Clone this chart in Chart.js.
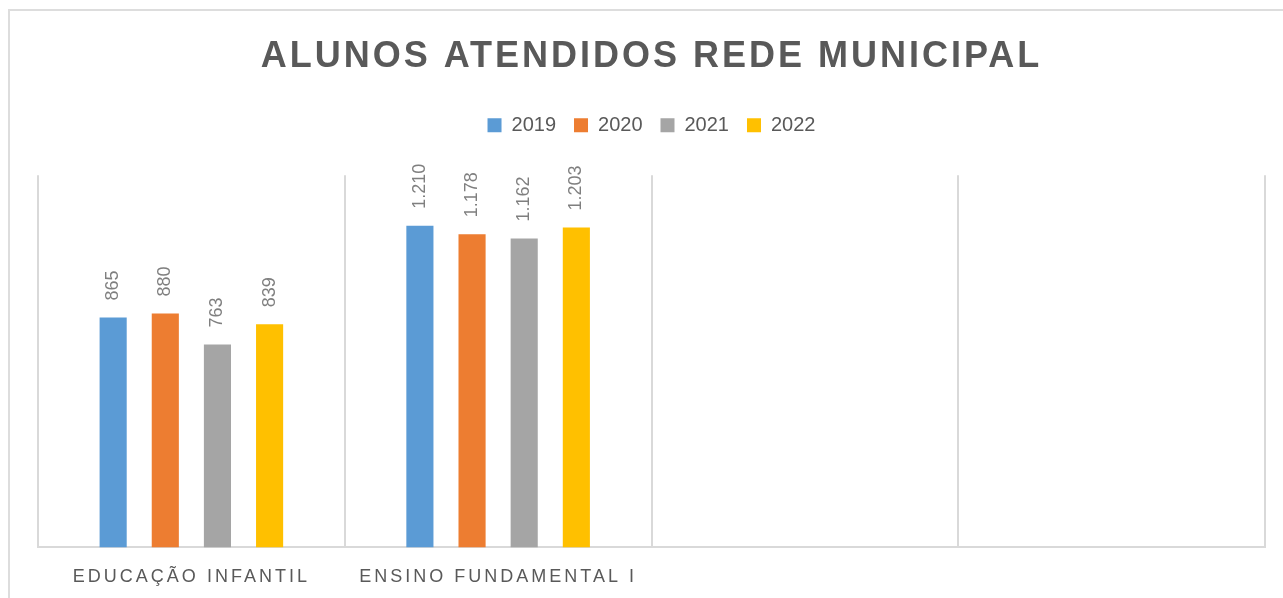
<!DOCTYPE html>
<html lang="pt-BR">
<head>
<meta charset="utf-8">
<title>Alunos atendidos rede municipal</title>
<script src="https://cdn.jsdelivr.net/npm/chart.js@4.4.1/dist/chart.umd.min.js"></script>
<style>
  html, body { margin: 0; padding: 0; background: #fff; overflow: hidden; }
  #box {
    position: absolute; left: 8px; top: 9px;
    width: 1280px; height: 600px;
    border: 2px solid #dddddd;
  }
</style>
</head>
<body>
<div id="box"><canvas id="chart"></canvas></div>
<script>
// data
const categories = ['EDUCAÇÃO INFANTIL', 'ENSINO FUNDAMENTAL I', '', ''];
const years = ['2019', '2020', '2021', '2022'];
const values2019 = [865, 1210, null, null];
const values2020 = [880, 1178, null, null];
const values2021 = [763, 1162, null, null];
const values2022 = [839, 1203, null, null];
const colors = ['#5B9BD5', '#ED7D31', '#A5A5A5', '#FFC000'];

const FONT = "'Liberation Sans', Arial, sans-serif";

// 1210 -> "1.210"
function fmt(v) {
  return String(v).replace(/\B(?=(\d{3})+(?!\d))/g, '.');
}

// wrap a draw method so its text gets letter spacing (canvas ctx.letterSpacing)
function spaced(obj, fn, ls) {
  const orig = obj[fn];
  obj[fn] = function (...args) {
    const ctx = this.ctx;
    const prev = ctx.letterSpacing;
    ctx.letterSpacing = ls;
    orig.apply(this, args);
    ctx.letterSpacing = prev;
  };
}

const letterSpacing = {
  id: 'letterSpacing',
  beforeInit(chart) {
    // extra room under the legend
    const fit = chart.legend.fit;
    chart.legend.fit = function () {
      fit.call(this);
      this.height += 30;
    };
  },
  beforeDraw(chart) {
    if (chart._spaced) return;
    chart._spaced = true;
    spaced(chart.titleBlock, 'draw', '3px');
    spaced(chart.scales.x, 'drawLabels', '3px');
  }
};

// vertical value labels above bars
const barLabels = {
  id: 'barLabels',
  afterDatasetsDraw(chart) {
    const ctx = chart.ctx;
    ctx.save();
    ctx.font = '18px ' + FONT;
    ctx.fillStyle = '#7f7f7f';
    ctx.textAlign = 'left';
    ctx.textBaseline = 'middle';
    chart.data.datasets.forEach((ds, i) => {
      chart.getDatasetMeta(i).data.forEach((bar, j) => {
        const v = ds.data[j];
        if (v === null || v === undefined) return;
        ctx.save();
        ctx.translate(bar.x, bar.y - 17);
        ctx.rotate(-Math.PI / 2);
        ctx.fillText(fmt(v), 0, 0);
        ctx.restore();
      });
    });
    ctx.restore();
  }
};

const series = [values2019, values2020, values2021, values2022];

new Chart(document.getElementById('chart'), {
  type: 'bar',
  data: {
    labels: categories,
    datasets: years.map((y, i) => ({
      label: y,
      data: series[i],
      backgroundColor: colors[i],
      categoryPercentage: 0.68,
      barPercentage: 0.52
    }))
  },
  options: {
    responsive: true,
    maintainAspectRatio: false,
    animation: false,
    layout: { padding: { left: 28, right: 25, top: 0, bottom: 4 } },
    plugins: {
      title: {
        display: true,
        text: 'ALUNOS ATENDIDOS REDE MUNICIPAL',
        color: '#595959',
        font: { family: FONT, size: 36, weight: 'bold' },
        padding: { top: 24, bottom: 19 }
      },
      legend: {
        position: 'top',
        labels: {
          color: '#595959',
          font: { family: FONT, size: 20 },
          boxWidth: 14,
          boxHeight: 14,
          padding: 18
        }
      },
      tooltip: { enabled: false }
    },
    scales: {
      x: {
        grid: { color: '#d9d9d9', lineWidth: 2, drawTicks: false },
        border: { color: '#d9d9d9', width: 2 },
        ticks: {
          color: '#595959',
          font: { family: FONT, size: 18 },
          padding: 19,
          maxRotation: 0,
          autoSkip: false
        }
      },
      y: {
        display: false,
        min: 0,
        max: 1400
      }
    }
  },
  plugins: [letterSpacing, barLabels]
});
</script>
</body>
</html>
